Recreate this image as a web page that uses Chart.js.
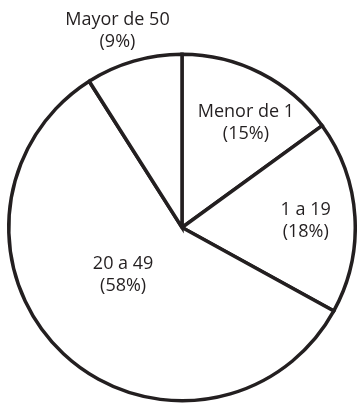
<!DOCTYPE html>
<html>
<head>
<meta charset="utf-8">
<script src="https://cdn.jsdelivr.net/npm/chart.js@4.4.0/dist/chart.umd.min.js"></script>
<style>
  html, body { margin: 0; padding: 0; background: #fff; }
  #wrap { width: 357px; height: 406px; }
</style>
</head>
<body>
<div id="wrap"><canvas id="pie"></canvas></div>
<script>
const categories = ["Menor de 1", "1 a 19", "20 a 49", "Mayor de 50"]
const shares = [15, 18, 58, 9]

// label placement per slice: fraction of outer radius, angle nudge in degrees
const labelRadius = [0.706, 0.715, 0.438, 1.193]
const labelNudge = [4.5, 0.6, 7.7, -2]

const ink = "#231f20"

const sliceLabels = {
  id: "sliceLabels",
  afterDraw(chart) {
    const ctx = chart.ctx
    const arcs = chart.getDatasetMeta(0).data
    ctx.save()
    ctx.fillStyle = ink
    ctx.font = "18px 'Open Sans'"
    ctx.textAlign = "center"
    ctx.textBaseline = "middle"
    arcs.forEach((arc, i) => {
      const mid = (arc.startAngle + arc.endAngle) / 2 + labelNudge[i] * Math.PI / 180
      const r = arc.outerRadius * labelRadius[i]
      const x = arc.x + Math.cos(mid) * r
      const y = arc.y + Math.sin(mid) * r
      ctx.fillText(categories[i], x, y - 11)
      ctx.fillText("(" + shares[i] + "%)", x, y + 11)
    })
    ctx.restore()
  }
}

new Chart(document.getElementById("pie"), {
  type: "pie",
  data: {
    labels: categories,
    datasets: [{
      data: shares,
      backgroundColor: "#ffffff",
      borderColor: ink,
      borderWidth: 3.5,
      borderJoinStyle: "miter",
    }],
  },
  options: {
    responsive: true,
    maintainAspectRatio: false,
    animation: false,
    layout: { padding: { left: 7, right: 0, top: 52, bottom: 3 } },
    plugins: {
      legend: { display: false },
      tooltip: { enabled: false },
    },
  },
  plugins: [sliceLabels],
})
</script>
</body>
</html>
